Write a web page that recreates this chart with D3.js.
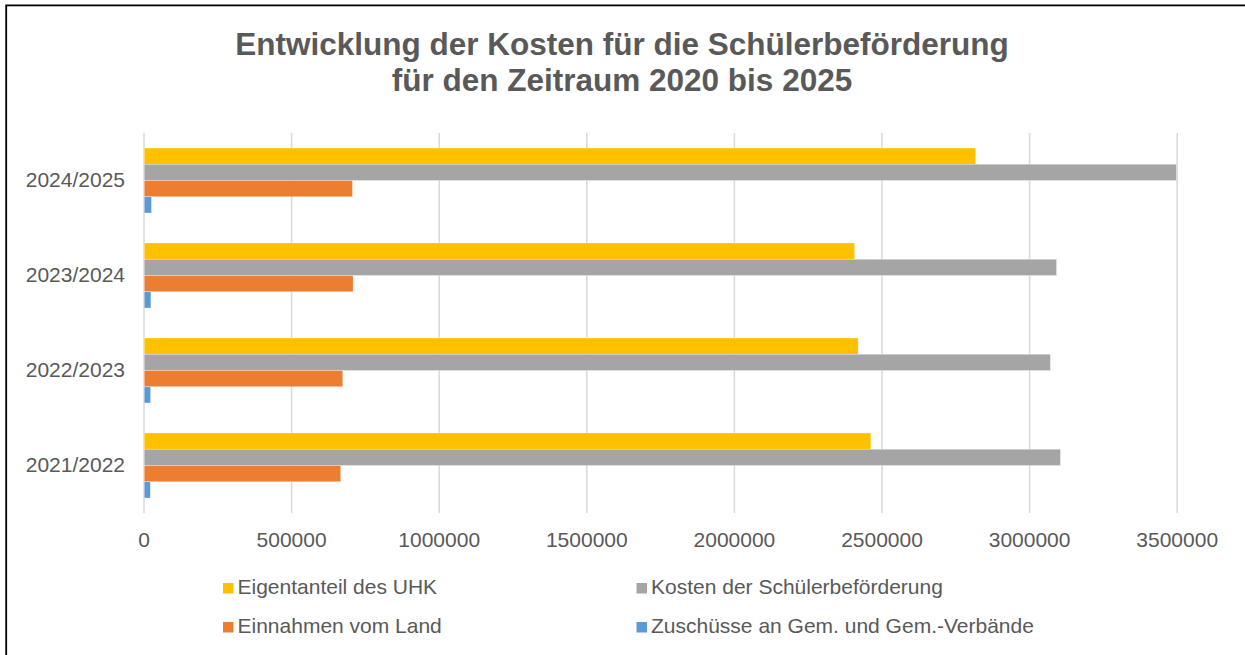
<!DOCTYPE html>
<html>
<head>
<meta charset="utf-8">
<script src="https://cdn.jsdelivr.net/npm/d3@7"></script>
<style>
  body { margin: 0; background: #fff; }
  svg { display: block; font-family: Arial, "Liberation Sans", sans-serif; }
</style>
</head>
<body>
<svg id="chart"></svg>
<script>
// categories shown bottom to top in the picture
const categories = ["2021/2022", "2022/2023", "2023/2024", "2024/2025"];
const seriesNames = [
    "Eigentanteil des UHK",
    "Kosten der Schülerbeförderung",
    "Einnahmen vom Land",
    "Zuschüsse an Gem. und Gem.-Verbände"
];
const eigenanteil = [2464000, 2421000, 2409000, 2819000];
const kosten = [3106000, 3072000, 3093000, 3499000];
const einnahmen = [668000, 675000, 710000, 708000];
const zuschuesse = [23000, 24000, 25000, 27000];
const xTicks = [0, 500000, 1000000, 1500000, 2000000, 2500000, 3000000, 3500000];
const colors = ["#FFC000", "#A5A5A5", "#ED7D31", "#5B9BD5"];

const values = [eigenanteil, kosten, einnahmen, zuschuesse];
const rows = categories.map((c, i) => ({
    cat: c,
    vals: seriesNames.map((s, j) => ({ name: s, value: values[j][i], color: colors[j] }))
}));

const width = 1245, height = 655;
const plot = { left: 143.5, right: 1176.7, top: 133, bottom: 513 };
const textColor = "#595959";

const svg = d3.select("#chart")
    .attr("width", width)
    .attr("height", height)
    .attr("viewBox", `0 0 ${width} ${height}`);

// frame (only top and left edges fall inside the picture)
svg.append("rect")
    .attr("x", 6.2).attr("y", 5.4)
    .attr("width", width + 20).attr("height", height + 20)
    .attr("fill", "#fff")
    .attr("stroke", "#000")
    .attr("stroke-width", 1.8);

// title
const title = svg.append("text")
    .attr("text-anchor", "middle")
    .attr("fill", textColor)
    .attr("font-weight", "bold")
    .attr("font-size", 31.5);
title.append("tspan").attr("x", 622).attr("y", 55).text("Entwicklung der Kosten für die Schülerbeförderung");
title.append("tspan").attr("x", 622).attr("y", 91).text("für den Zeitraum 2020 bis 2025");

const x = d3.scaleLinear()
    .domain([0, 3500000])
    .range([plot.left, plot.right]);

const y0 = d3.scaleBand()
    .domain(categories.slice().reverse())
    .range([plot.top, plot.bottom]);

const y1 = d3.scaleBand()
    .domain(seriesNames)
    .range([0, y0.bandwidth()])
    .paddingInner(0)
    .paddingOuter(0.923);

// gridlines + x labels
const xAxis = svg.append("g")
    .attr("transform", `translate(0,${plot.bottom})`)
    .call(d3.axisBottom(x)
        .tickValues(xTicks)
        .tickFormat(d3.format("d"))
        .tickSize(-(plot.bottom - plot.top)));
xAxis.select(".domain").remove();
xAxis.selectAll(".tick line")
    .attr("stroke", "#d9d9d9")
    .attr("stroke-width", 1.5);
xAxis.selectAll(".tick text")
    .attr("y", 34)
    .attr("dy", 0)
    .attr("fill", textColor)
    .attr("font-size", 21)
    .attr("font-family", "Arial, 'Liberation Sans', sans-serif");

// bars
const groups = svg.append("g")
    .selectAll("g")
    .data(rows)
    .join("g")
    .attr("transform", (d) => `translate(0,${y0(d.cat)})`);

groups.selectAll("rect")
    .data((d) => d.vals)
    .join("rect")
    .attr("x", x(0) + 0.75)
    .attr("y", (d) => y1(d.name))
    .attr("width", (d) => x(d.value) - x(0) - 0.75)
    .attr("height", y1.bandwidth())
    .attr("fill", (d) => d.color)
    .attr("stroke", "#fff")
    .attr("stroke-opacity", 0.5)
    .attr("stroke-width", 0.6);

// category labels
const yAxis = svg.append("g")
    .attr("transform", `translate(${plot.left},0)`)
    .call(d3.axisLeft(y0).tickSize(0).tickPadding(18.5));
yAxis.select(".domain").remove();
yAxis.selectAll(".tick text")
    .attr("fill", textColor)
    .attr("font-size", 21)
    .attr("font-family", "Arial, 'Liberation Sans', sans-serif");

// legend
const legendPos = [
    { x: 223, y: 594 },
    { x: 636.5, y: 594 },
    { x: 223, y: 633 },
    { x: 636.5, y: 633 }
];
const legend = svg.append("g")
    .selectAll("g")
    .data(seriesNames)
    .join("g")
    .attr("transform", (d, i) => `translate(${legendPos[i].x},${legendPos[i].y})`);

legend.append("rect")
    .attr("x", 0)
    .attr("y", -11)
    .attr("width", 10.5)
    .attr("height", 10.5)
    .attr("fill", (d, i) => colors[i]);

legend.append("text")
    .attr("x", 14.5)
    .attr("y", 0)
    .attr("fill", textColor)
    .attr("font-size", 21)
    .text((d) => d);
</script>
</body>
</html>
